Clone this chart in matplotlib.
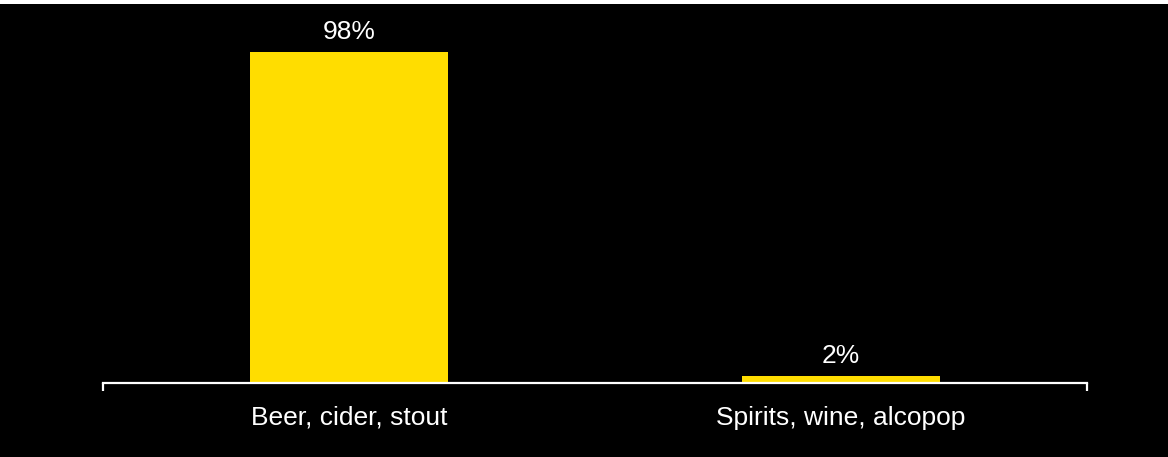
import matplotlib.pyplot as plt
from matplotlib.lines import Line2D
from matplotlib.patches import Rectangle

categories = ["Beer, cider, stout", "Spirits, wine, alcopop"]
shares = [98, 2]

BAR_COLOR = "#FFDD00"
plt.rcParams["font.family"] = ["Liberation Sans", "DejaVu Sans"]

fig = plt.figure(figsize=(11.68, 4.57), dpi=100, facecolor="black")
# thin white strip along the top edge
fig.patches.append(Rectangle((0, 1 - 4 / 457), 1, 4 / 457, transform=fig.transFigure,
                             facecolor="white", edgecolor="none"))

ax = fig.add_axes([103 / 1168, 74 / 457, 984 / 1168, 337.8 / 457])
ax.set_facecolor("black")

x = list(range(len(categories)))
bars = ax.bar(x, shares, width=0.402, color=BAR_COLOR)
for rect, v in zip(bars, shares):
    ax.annotate(f"{v}%", (rect.get_x() + rect.get_width() / 2, rect.get_height()),
                xytext=(0, 6), textcoords="offset points", ha="center", va="bottom",
                color="white", fontsize=19)

ax.set_xlim(-0.5, 1.5)
ax.set_ylim(0, 100)
ax.set_xticks(x)
ax.set_xticklabels(categories, color="white", fontsize=19)
ax.tick_params(axis="x", length=0, pad=16.5)
ax.set_yticks([])

for side in ("top", "right", "left"):
    ax.spines[side].set_visible(False)
ax.spines["bottom"].set_color("white")
ax.spines["bottom"].set_linewidth(1.6)

# short end caps hanging below the baseline
for xe in (0, 1):
    ax.add_line(Line2D([xe, xe], [0, -0.025], transform=ax.transAxes, color="white",
                       linewidth=1.6, clip_on=False, solid_capstyle="butt"))

fig.savefig("out.png", dpi=100, facecolor=fig.get_facecolor())
